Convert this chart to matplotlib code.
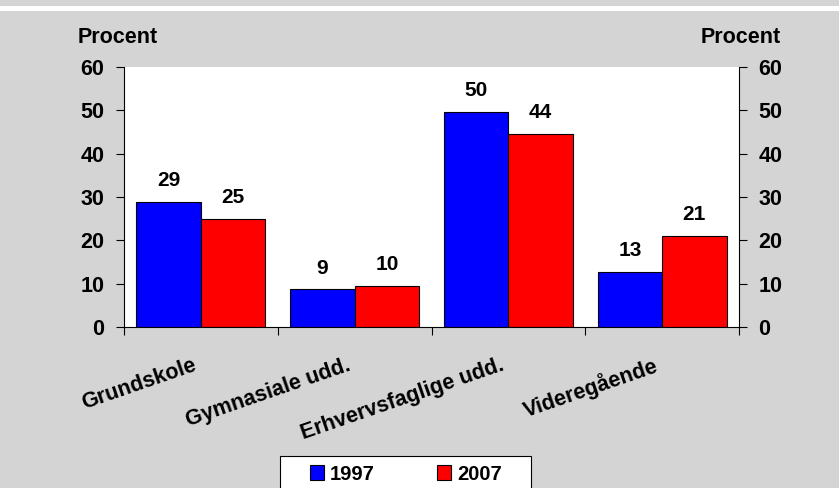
import numpy as np
import matplotlib.pyplot as plt
from matplotlib.patches import Rectangle

categories = ['Grundskole', 'Gymnasiale udd.', 'Erhvervsfaglige udd.', 'Videregående']
v1997 = [28.9, 8.7, 49.6, 12.7]
v2007 = [24.9, 9.5, 44.5, 21.0]
lab1997 = ['29', '9', '50', '13']
lab2007 = ['25', '10', '44', '21']

plt.rcParams['font.family'] = ['Liberation Sans', 'DejaVu Sans']
plt.rcParams['font.weight'] = 'bold'

W, H = 839, 488
fs = 15.5
fig = plt.figure(figsize=(W / 100, H / 100), dpi=100)
bg = '#d4d4d4'
fig.patch.set_facecolor(bg)
# white strip near top
fig.patches.append(Rectangle((0, 1 - 11 / H), 1, 5 / H, transform=fig.transFigure,
                             facecolor='white', edgecolor='none'))

left, right, top, bottom = 124, 739, 67, 327
ax = fig.add_axes([left / W, 1 - bottom / H, (right - left) / W, (bottom - top) / H])
ax.set_facecolor('white')

x = np.arange(len(categories))
bw = 0.42
b1 = ax.bar(x - bw / 2, v1997, bw, color='#0000ff', edgecolor='black', linewidth=0.8, label='1997')
b2 = ax.bar(x + bw / 2, v2007, bw, color='#ff0000', edgecolor='black', linewidth=0.8, label='2007')
for rect, t in zip(list(b1) + list(b2), lab1997 + lab2007):
    ax.text(rect.get_x() + rect.get_width() / 2, rect.get_height() + 2.7, t,
            ha='center', va='bottom', fontsize=15, fontweight='bold')

ax.set_xlim(-0.5, len(categories) - 0.5)
ax.set_ylim(0, 60)
ax.set_yticks(range(0, 61, 10))
ax.tick_params(axis='y', which='both', left=True, right=True, labelleft=True, labelright=True,
               direction='out', length=6, labelsize=fs, pad=8)
ax.set_xticks(np.arange(-0.5, len(categories), 1.0))
ax.set_xticklabels([])
ax.tick_params(axis='x', direction='out', length=6)
# rotated category labels, right end just left of the group centre
for i, c in enumerate(categories):
    ax.annotate(c, xy=(i, 0), xycoords=('data', 'axes fraction'), xytext=(-6, -20),
                textcoords='offset points', rotation=19, ha='right', va='top',
                rotation_mode='anchor', fontsize=fs, fontweight='bold')
for s in ax.spines.values():
    s.set_linewidth(0.8)
ax.spines['top'].set_visible(False)

fig.text(78 / W, 1 - 43 / H, 'Procent', ha='left', va='baseline', fontsize=fs, fontweight='bold')
fig.text(781 / W, 1 - 43 / H, 'Procent', ha='right', va='baseline', fontsize=fs, fontweight='bold')

# legend frame running off the bottom edge
fig.patches.append(Rectangle((280 / W, -0.02), 251 / W, 0.02 + 32 / H, transform=fig.transFigure,
                             facecolor='white', edgecolor='black', linewidth=0.8))
leg = fig.legend(handles=[b1, b2], loc='center', bbox_to_anchor=(406 / W, 1 - 474 / H),
                 ncol=2, frameon=False, fontsize=14.5, columnspacing=3.1,
                 handlelength=0.7, handleheight=0.7, handletextpad=0.3, borderaxespad=0)

fig.savefig('out.png', dpi=100, facecolor=bg)
